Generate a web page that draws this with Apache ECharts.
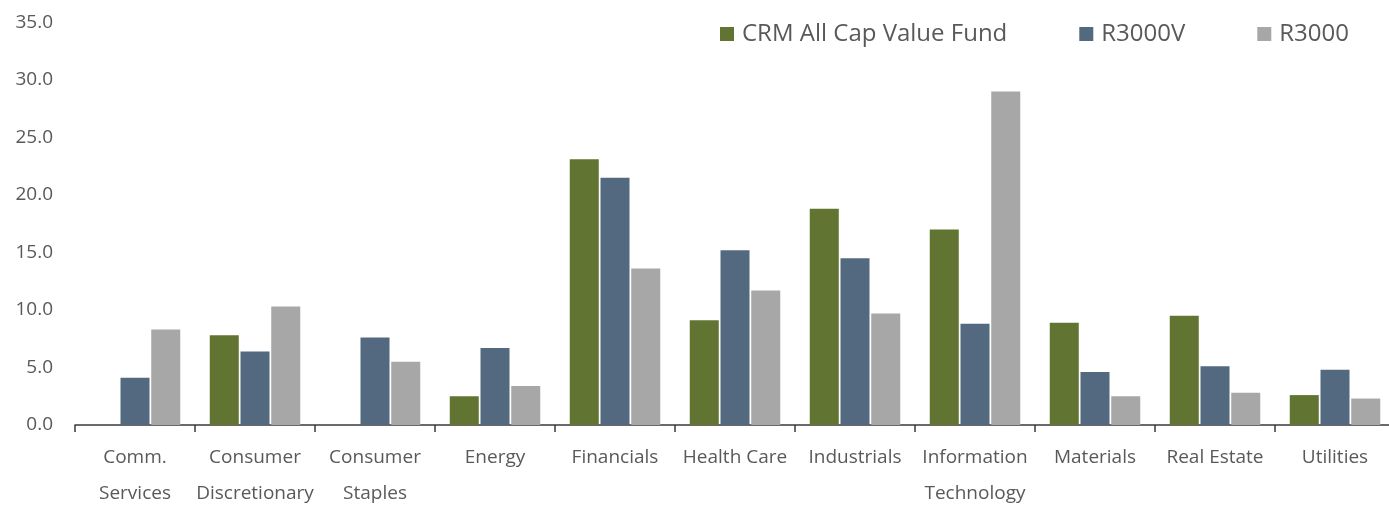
<!DOCTYPE html>
<html>
<head>
<meta charset="utf-8">
<script src="https://cdn.jsdelivr.net/npm/echarts@6/dist/echarts.min.js"></script>
<style>
html,body{margin:0;padding:0;background:#fff;}
#chart{width:1389px;height:506px;}
</style>
</head>
<body>
<div id="chart"></div>
<script>
const categories = ['Comm.\nServices','Consumer\nDiscretionary','Consumer\nStaples','Energy','Financials','Health Care','Industrials','Information\nTechnology','Materials','Real Estate','Utilities'];
const seriesNames = ['CRM All Cap Value Fund','R3000V','R3000'];
const crmFund = [0, 7.8, 0, 2.5, 23.1, 9.1, 18.8, 17.0, 8.9, 9.5, 2.6];
const r3000v  = [4.1, 6.4, 7.6, 6.7, 21.5, 15.2, 14.5, 8.8, 4.6, 5.1, 4.8];
const r3000   = [8.3, 10.3, 5.5, 3.4, 13.6, 11.7, 9.7, 29.0, 2.5, 2.8, 2.3];
const yTicks = [0, 5, 10, 15, 20, 25, 30, 35];

const colors = ['#627431', '#53697F', '#A7A7A7'];
const font = '"Open Sans", "Noto Sans", sans-serif';
const chart = echarts.init(document.getElementById('chart'), null, {renderer:'canvas'});
const data = [crmFund, r3000v, r3000];
chart.setOption({
  animation: false,
  backgroundColor: '#ffffff',
  color: colors,
  textStyle: {fontFamily: font},
  legend: {
    top: 17,
    left: 715,
    itemWidth: 14,
    itemHeight: 14,
    itemGap: 72,
    icon: 'rect',
    textStyle: {fontFamily: font, fontSize: 24, color: '#595959', padding: [0, 0, 0, 3]},
    data: seriesNames
  },
  grid: {left: 75, width: 1320, top: 22.5, bottom: 81, containLabel: false, outerBoundsMode: 'none'},
  xAxis: {
    type: 'category',
    data: categories,
    boundaryGap: true,
    axisLine: {show: true, lineStyle: {color: '#3a3a3a', width: 1.5}},
    axisTick: {show: true, alignWithLabel: false, length: 7, inside: false, lineStyle: {color: '#3a3a3a', width: 1.5}},
    axisLabel: {interval: 0, margin: 15, fontSize: 19, lineHeight: 36, color: '#595959', fontFamily: font}
  },
  yAxis: {
    type: 'value',
    min: yTicks[0],
    max: yTicks[yTicks.length-1],
    interval: 5,
    axisLine: {show: false},
    axisTick: {show: false},
    splitLine: {show: false},
    axisLabel: {margin: 22, fontSize: 19, color: '#595959', fontFamily: font, formatter: v => v.toFixed(1)}
  },
  series: seriesNames.map((n, i) => ({
    name: n,
    type: 'bar',
    data: data[i],
    barWidth: 29,
    barGap: '6%',
    itemStyle: {color: colors[i]}
  }))
});
</script>
</body>
</html>
